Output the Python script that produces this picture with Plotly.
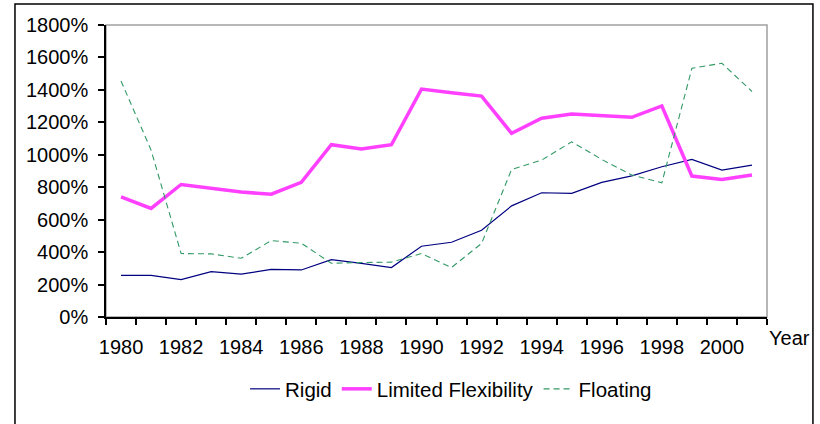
import plotly.graph_objects as go

years = list(range(1980, 2002))
rigid = [257, 257, 231, 280, 264, 294, 290, 354, 330, 305, 436, 461, 535, 685, 766, 762, 830, 870, 926, 971, 905, 936]
limited = [741, 669, 817, 793, 770, 757, 830, 1062, 1035, 1062, 1405, 1383, 1362, 1132, 1225, 1251, 1243, 1231, 1301, 869, 848, 875]
floating = [1455, 1029, 391, 389, 362, 471, 455, 331, 336, 338, 391, 305, 453, 910, 967, 1080, 971, 875, 827, 1533, 1564, 1390]
label_years = list(range(1980, 2001, 2))

FONT = "Liberation Sans, Arial, sans-serif"

fig = go.Figure()
fig.add_trace(go.Scatter(x=years, y=rigid, name="Rigid", mode="lines",
                         line=dict(color="#000080", width=1.2)))
fig.add_trace(go.Scatter(x=years, y=limited, name="Limited Flexibility", mode="lines",
                         line=dict(color="#FF40FF", width=3.5)))
fig.add_trace(go.Scatter(x=years, y=floating, name="Floating", mode="lines",
                         line=dict(color="#339966", width=1.1, dash="6px,4px")))

fig.update_layout(
    width=820, height=424,
    margin=dict(l=106, r=53, t=25, b=107, autoexpand=False),
    paper_bgcolor="white", plot_bgcolor="white",
    font=dict(family=FONT, size=20, color="black"),
    showlegend=True,
    legend=dict(orientation="h", x=0.522, xanchor="center", y=-0.2466, yanchor="middle",
                font=dict(size=20.5), itemwidth=30, tracegroupgap=0, bgcolor="rgba(0,0,0,0)"),
    shapes=[
        dict(type="rect", xref="paper", yref="paper", x0=0, x1=1, y0=0, y1=1,
             line=dict(color="#A0A0A0", width=1.5), layer="below"),
        dict(type="rect", xref="paper", yref="paper", x0=-0.1377, x1=1.0695, y0=-0.40, y1=1.0719,
             line=dict(color="black", width=1.5), layer="below"),
    ],
    annotations=[
        dict(text="Year", xref="paper", yref="paper", x=(790 - 106) / 661, y=(317 - 338) / 292,
             xanchor="center", yanchor="middle", showarrow=False, font=dict(size=20)),
    ],
)

fig.update_xaxes(
    range=[1979.5, 2001.5], tickvals=label_years, ticktext=[str(y) for y in label_years],
    ticks="", showgrid=False, zeroline=False, showline=True, linecolor="black", linewidth=1.5,
    ticklabelstandoff=11, automargin=False,
    minor=dict(ticks="outside", tick0=1979.5, dtick=1, ticklen=6, tickcolor="black", tickwidth=1.5, showgrid=False),
)
fig.update_yaxes(
    range=[0, 1800], dtick=200, ticksuffix="%", ticks="outside", ticklen=6, tickcolor="black",
    tickwidth=1.5, showgrid=False, zeroline=False, showline=True, linecolor="black", linewidth=1.5,
    ticklabelstandoff=6, automargin=False,
)

fig.write_html("out.html", config={"displayModeBar": False},
               post_script="document.body.style.margin='0px';document.body.style.overflow='hidden';")
